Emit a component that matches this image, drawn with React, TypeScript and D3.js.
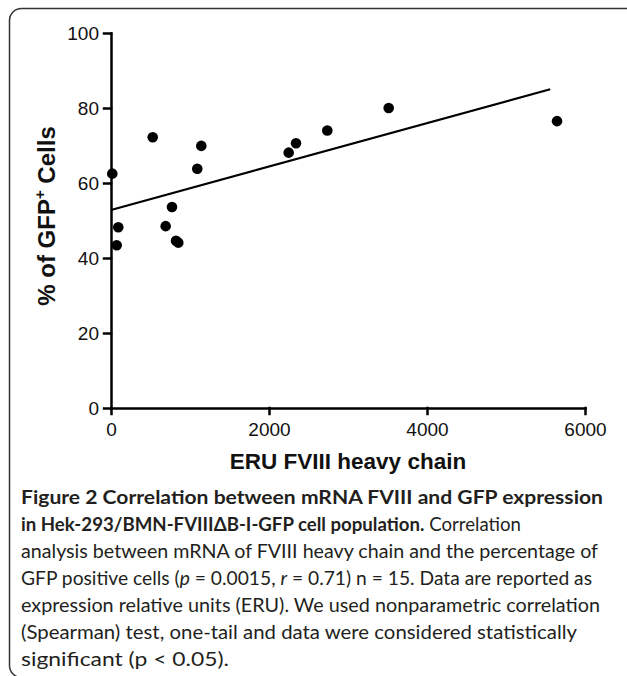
import * as d3 from 'd3';
import React, { useRef, useEffect } from 'react';

// values
const eru = [16, 92, 72, 528, 692, 772, 823, 852, 1092, 1143, 2249, 2342, 2738, 3515, 5646];
const gfp = [62.5, 48.2, 43.4, 72.2, 48.5, 53.6, 44.6, 44.1, 63.8, 69.9, 68.1, 70.6, 74, 80, 76.5];
// regression line end points (as drawn in the figure)
const fitX = [0, 5560];
const fitY = [52.8, 85.0];
const xTicks = [0, 2000, 4000, 6000];
const yTicks = [0, 20, 40, 60, 80, 100];

const W = 627;
const H = 676;

function Chart() {
  const ref = useRef<SVGSVGElement>(null);

  const x = d3.scaleLinear().domain([0, 6000]).range([111, 585]);
  const y = d3.scaleLinear().domain([0, 100]).range([408, 33]);

  useEffect(() => {
    const svg = d3.select(ref.current);
    svg.selectAll('.axis').remove();

    const xAxis = d3.axisBottom(x).tickValues(xTicks).tickSize(6).tickSizeOuter(0).tickPadding(9).tickFormat(d3.format('d'));
    const yAxis = d3.axisLeft(y).tickValues(yTicks).tickSize(7).tickSizeOuter(0).tickPadding(5).tickFormat(d3.format('d'));

    const gx = svg.append('g').attr('class', 'axis').attr('transform', `translate(0,${y(0)})`).call(xAxis);
    const gy = svg.append('g').attr('class', 'axis').attr('transform', `translate(${x(0)},0)`).call(yAxis);

    [gx, gy].forEach((g) => {
      g.selectAll('path,line').attr('stroke', '#000').attr('stroke-width', 2.5).attr('stroke-linecap', 'square');
      g.selectAll('text')
        .attr('fill', '#111')
        .style('font-family', 'Liberation Sans, Arial, sans-serif')
        .style('font-size', '19px');
    });
  }, []);

  const fit = d3.line<number>().x((d) => x(d)).y((d, i) => y(fitY[i]));

  return (
    <svg ref={ref} width={W} height={H} style={{ position: 'absolute', left: 0, top: 0, background: '#fff' }}>
      <rect x={9.5} y={8.5} width={660} height={669} rx={12} fill="#fff" stroke="#333" strokeWidth={1.5} />

      <path d={fit(fitX) || ''} fill="none" stroke="#000" strokeWidth={2.2} />

      {eru.map((v, i) => (
        <circle key={i} cx={x(v)} cy={y(gfp[i])} r={5.3} fill="#000" />
      ))}

      <text x={348} y={469} textAnchor="middle" fontFamily="Liberation Sans, Arial, sans-serif" fontWeight="bold" fontSize={22.5} fill="#111">
        ERU FVIII heavy chain
      </text>
      <text transform="translate(55,216) rotate(-90)" textAnchor="middle" fontFamily="Liberation Sans, Arial, sans-serif" fontWeight="bold" fontSize={24} fill="#111">
        % of GFP<tspan fontSize={15} dy={-10}>+</tspan>
        <tspan dy={10}> Cells</tspan>
      </text>

      <g fontFamily="Lato, sans-serif" fontSize={18.5} fill="#231f20">
        <text x={21} y={504} textLength={582} lengthAdjust="spacingAndGlyphs" fontWeight="bold">
          Figure 2 Correlation between mRNA FVIII and GFP expression
        </text>
        <text x={21} y={531} textLength={500} lengthAdjust="spacingAndGlyphs">
          <tspan fontWeight="bold">in Hek-293/BMN-FVIIIΔB-I-GFP cell population.</tspan> Correlation
        </text>
        <text x={21} y={558} textLength={577} lengthAdjust="spacingAndGlyphs">
          analysis between mRNA of FVIII heavy chain and the percentage of
        </text>
        <text x={21} y={585} textLength={571} lengthAdjust="spacingAndGlyphs">
          GFP positive cells (<tspan fontStyle="italic">p</tspan> = 0.0015, <tspan fontStyle="italic">r</tspan> = 0.71) n = 15. Data are reported as
        </text>
        <text x={21} y={612} textLength={579} lengthAdjust="spacingAndGlyphs">
          expression relative units (ERU). We used nonparametric correlation
        </text>
        <text x={21} y={639} textLength={556} lengthAdjust="spacingAndGlyphs">
          (Spearman) test, one-tail and data were considered statistically
        </text>
        <text x={21} y={666} textLength={208} lengthAdjust="spacingAndGlyphs">
          significant (p &lt; 0.05).
        </text>
      </g>
    </svg>
  );
}

export default function App() {
  return <Chart />;
}
